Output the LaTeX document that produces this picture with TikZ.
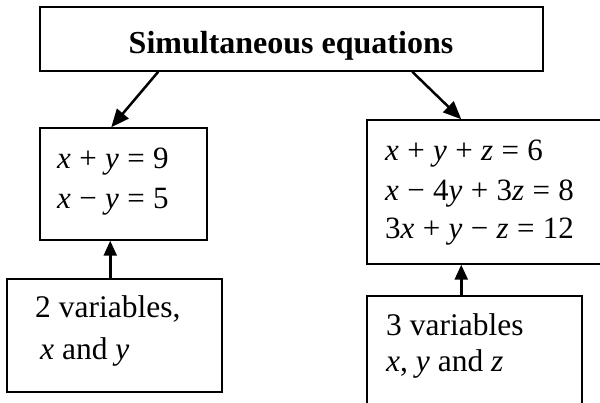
\documentclass[tikz,border=0pt]{standalone}
\usepackage{fontspec}
\setmainfont{Liberation Serif}
\usetikzlibrary{arrows.meta}
\newcommand\mop[1]{\hspace{0.27em}#1\hspace{0.27em}}
\newcommand\mv[1]{\textit{#1}}
\begin{document}
\begin{tikzpicture}[x=1pt,y=-1pt,
  box/.style={draw, line width=1.5pt, inner sep=0pt},
  conn/.style={line width=2.5pt, -{Triangle[length=18pt,width=15pt]}},
  upconn/.style={line width=2.5pt, -{Triangle[length=15pt,width=13pt]}},
  eq/.style={inner sep=0pt, anchor=base west, font=\fontsize{31}{37}\selectfont},
  txt/.style={inner sep=0pt, anchor=base west, font=\fontsize{31.5}{38}\selectfont},
  ttl/.style={inner sep=0pt, anchor=base, font=\bfseries\fontsize{32}{38}\selectfont}]
\clip (0,0) rectangle (600,403);
\fill[white] (0,0) rectangle (600,403);
% boxes
\node[box, minimum width=503pt, minimum height=64pt] (top) at (291.5,39) {};
\node[box, minimum width=167pt, minimum height=112pt] (left) at (123.5,184) {};
\node[box, minimum width=250pt, minimum height=144pt] (right) at (492,192) {};
\node[box, minimum width=215pt, minimum height=113pt] (bl) at (114.5,335.5) {};
\node[box, minimum width=215pt, minimum height=130pt] (br) at (474.5,361) {};
% texts
\node[ttl] (ttext) at (291,54) {Simultaneous equations};
\node[eq] (l1) at (57,169) {\mv{x}\mop{+}\mv{y}\mop{=}9};
\node[eq] (l2) at (57,209) {\mv{x}\mop{−}\mv{y}\mop{=}5};
\node[eq] (r1) at (385,161) {\mv{x}\mop{+}\mv{y}\mop{+}\mv{z}\mop{=}6};
\node[eq] (r2) at (385,201) {\mv{x}\mop{−}4\mv{y}\mop{+}3\mv{z}\mop{=}8};
\node[eq] (r3) at (385,239) {3\mv{x}\mop{+}\mv{y}\mop{−}\mv{z}\mop{=}12};
\node[txt] (b1) at (35,318) {2 variables,};
\node[txt] (b2) at (40,360) {\mv{x} and \mv{y}};
\node[txt] (c1) at (386,336) {3 variables};
\node[txt] (c2) at (386,372) {\mv{x}, \mv{y} and \mv{z}};
% connectors
\draw[conn] ([xshift=119pt]top.south west) -- ([xshift=72pt]left.north west);
\draw[conn] ([xshift=373pt]top.south west) -- ([xshift=95pt]right.north west);
\draw[upconn] ([xshift=104pt]bl.north west) -- ([xshift=71pt]left.south west);
\draw[upconn] ([xshift=95pt]br.north west) -- ([xshift=95pt]right.south west);
\end{tikzpicture}
\end{document}
